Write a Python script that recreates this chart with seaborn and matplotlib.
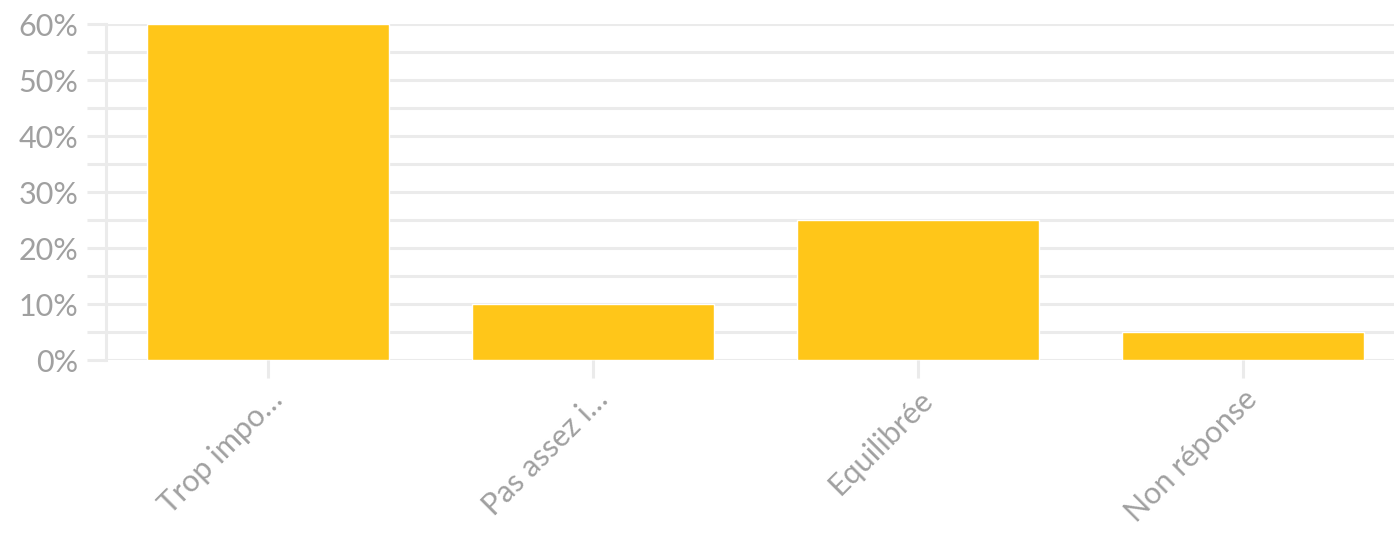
import matplotlib
matplotlib.use('Agg')
import matplotlib.pyplot as plt
import matplotlib.ticker as mticker
import seaborn as sns

categories = ['Trop impo…', 'Pas assez i…', 'Equilibrée', 'Non réponse']
values = [60, 10, 25, 5]

BAR = '#FFC619'
GRID = '#ebebeb'
TEXT = '#a0a0a0'


def main():
    sns.set_theme(style='white')
    plt.rcParams['font.family'] = ['Lato', 'DejaVu Sans']

    fig = plt.figure(figsize=(13.94, 5.35), dpi=100)
    ax = fig.add_axes([0.0757, 0.327, 0.9326, 0.628])

    sns.barplot(x=categories, y=values, color=BAR, saturation=1, width=0.745, ax=ax, zorder=3)

    ax.set_ylim(0, 60)
    ax.set_xlim(-0.5, 3.5)
    ax.yaxis.set_major_locator(mticker.MultipleLocator(10))
    ax.yaxis.set_minor_locator(mticker.MultipleLocator(5))
    ax.yaxis.set_major_formatter(mticker.FuncFormatter(lambda v, p: f'{v:.0f}%'))
    ax.grid(True, axis='y', which='both', color=GRID, linewidth=2.2, zorder=0)
    ax.set_axisbelow(True)

    ax.tick_params(axis='y', which='both', length=13.5, width=2.2, color=GRID,
                   labelsize=22, labelcolor=TEXT, pad=6, left=True)
    ax.tick_params(axis='x', length=13, width=2.2, color=GRID, labelsize=22,
                   labelcolor=TEXT, pad=5, bottom=True)
    for lab in ax.get_xticklabels():
        lab.set_rotation(45)
        lab.set_ha('right')
        lab.set_rotation_mode('anchor')

    for s in ['top', 'right', 'bottom']:
        ax.spines[s].set_visible(False)
    ax.spines['left'].set_color(GRID)
    ax.spines['left'].set_linewidth(2.2)
    ax.set_xlabel('')
    ax.set_ylabel('')

    fig.savefig('out.png', dpi=100)


if __name__ == '__main__':
    main()
